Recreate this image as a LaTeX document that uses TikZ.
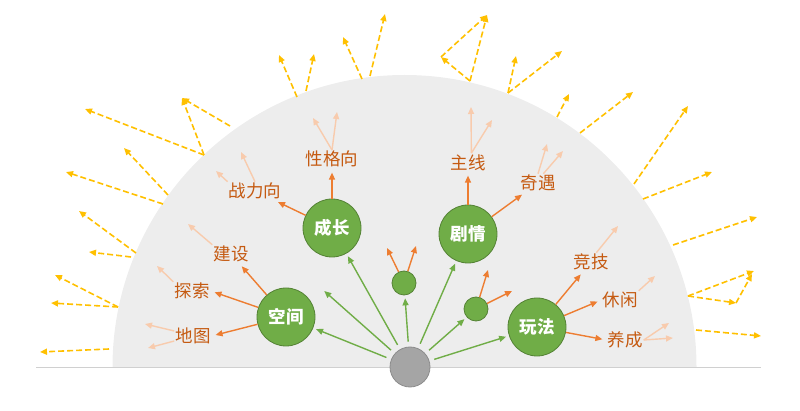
\documentclass[tikz,border=0pt]{standalone}
\usepackage{fontspec}
\setmainfont{Noto Sans CJK SC}
\usetikzlibrary{arrows.meta,positioning}
\definecolor{rayyellow}{HTML}{FFC000}
\definecolor{leafgreen}{HTML}{70AD47}
\definecolor{leafborder}{HTML}{548235}
\definecolor{twigorange}{HTML}{ED7D31}
\definecolor{labelbrown}{HTML}{C55A11}
\definecolor{faintorange}{HTML}{F8CBAD}
\definecolor{domegray}{HTML}{EDEDED}
\definecolor{hubgray}{HTML}{A5A5A5}
\definecolor{hubborder}{HTML}{8C8C8C}
\definecolor{groundgray}{HTML}{D0D0D0}
\tikzset{
  every picture/.style = {
    >={Triangle[length=7pt,width=6pt]},
  }
  ,
  leaf/.style = {
    circle,
    draw = leafborder,
    line width = 0.8pt,
    fill = leafgreen,
    minimum size = 58pt,
    inner sep = 0pt,
    text = white,
    font = \bfseries\fontsize{17.5}{17.5}\selectfont
  }
  , % small green circles
  bud/.style = {
    circle,
    draw = leafborder,
    line width = 0.8pt,
    fill = leafgreen,
    minimum size = 24pt,
    inner sep = 0pt
  }
  ,
  stem/.style = {
    circle,
    draw = hubborder,
    line width = 0.8pt,
    fill = hubgray,
    minimum size = 40pt,
    inner sep = 0pt
  }
  , % labels of branches
  twig/.style = {
    text = labelbrown,
    font = \fontsize{17.5}{17.5}\selectfont,
    inner sep = 1pt
  }
  ,
  sprout/.style = {color=leafgreen, line width=1.4pt, shorten <=5pt, shorten >=3pt},
  branch/.style = {color=twigorange, line width=1.4pt, shorten >=4pt},
  hint/.style = {color=faintorange, line width=1.4pt},
  ray/.style = {color=rayyellow, line width=1.6pt, dash pattern=on 6pt off 3pt},
  ground/.style = {draw=groundgray, line width=1pt}
}

\begin{document}
\begin{tikzpicture}[x=1pt, y=-1pt]
    \useasboundingbox (0,0) rectangle (800,411);
    \fill[domegray] (112.5,367) arc[start angle=180, end angle=0, radius=292pt] -- cycle;
    \draw[ground] (36,367) -- (761,367);

    % rays out of the dome
    \foreach \a/\b in {{370,76}/{385,14}, {362,79}/{343,37}, {306,91}/{314,54},
        {297,97}/{279,55}, {230,126}/{182,98}, {204,155}/{182,98}, {204,155}/{85,109},
        {168,195}/{124,148}, {163,204}/{66,172}, {136,253}/{79,211}, {131,257}/{89,252},
        {118,307}/{55,275}, {118,307}/{51,303}, {109,349}/{40,352},
        {470,81}/{487,15}, {470,81}/{441,57}, {441,57}/{487,15}, {508,93}/{516,56},
        {508,93}/{562,51}, {557,117}/{569,94}, {580,133}/{633,92}, {634,184}/{688,106},
        {643,199}/{712,172}, {673,245}/{757,217}, {688,296}/{754,271}, {688,296}/{736,303},
        {736,303}/{752,274}, {696,330}/{761,336}}
        \draw[ray, ->] (\a) -- (\b);

    \node [stem] (root) at (410,367) {};
    \node [leaf] (kj) at (286,317) {空间};
    \node [leaf] (cz) at (332,228) {成长};
    \node [leaf] (jq) at (468,234) {剧情};
    \node [leaf] (wf) at (537,327) {玩法};
    \node [bud] (s1) at (404,283) {};
    \node [bud] (s2) at (476,309) {};

    \node [twig] (js) at (231,254) {建设};
    \node [twig] (ts) at (192,291) {探索};
    \node [twig] (dt) at (193,336) {地图};
    \node [twig] (zl) at (255,191) {战力向};
    \node [twig, above = 30pt of cz] (xg) {性格向};
    \node [twig, above = 33pt of jq] (zx) {主线};
    \node [twig] (qy) at (538,183) {奇遇};
    \node [twig] (jj) at (591,262) {竞技};
    \node [twig] (xx) at (620,300) {休闲};
    \node [twig] (yc) at (625,340) {养成};

    % free ends
    \coordinate (gap) at (322,289);
    \coordinate (s1a) at (387,248); \coordinate (s1b) at (416,246);
    \coordinate (s2a) at (488,270); \coordinate (s2b) at (512,291);
    \coordinate (jsa) at (188,224); \coordinate (tsa) at (157,266);
    \coordinate (dta) at (145,324); \coordinate (dtb) at (148,348);
    \coordinate (zla) at (241,152); \coordinate (zlb) at (216,171);
    \coordinate (xga) at (313,118); \coordinate (xgb) at (337,112);
    \coordinate (zxa) at (471,107); \coordinate (zxb) at (492,120);
    \coordinate (qya) at (547,144); \coordinate (qyb) at (563,151);
    \coordinate (jja) at (618,226); \coordinate (xxa) at (655,276);
    \coordinate (yca) at (669,323); \coordinate (ycb) at (673,338);

    \path[->, sprout] (root) edge (kj)
        (root) edge (gap)
        (root) edge (cz)
        (root) edge (s1)
        (root) edge (jq)
        (root) edge (s2)
        (root) edge (wf);

    \path[->, branch] (kj) edge (js)
        (kj) edge (ts.east)
        (kj) edge (dt.east)
        (cz) edge (zl)
        (cz) edge (xg)
        (jq) edge (zx)
        (jq) edge (qy)
        (wf) edge (jj)
        (wf) edge (xx.west)
        (wf) edge (yc.west)
        (s1) edge[shorten >=0pt] (s1a)
        (s1) edge[shorten >=0pt] (s1b)
        (s2) edge[shorten >=0pt] (s2a)
        (s2) edge[shorten >=0pt] (s2b);

    \path[->, hint] (js.north west) edge (jsa)
        (ts.north west) edge (tsa)
        (dt.165) edge (dta)
        (dt.195) edge (dtb)
        (zl.north) edge (zla)
        (zl.north west) edge (zlb)
        (xg.north) edge (xga)
        (xg.north) edge (xgb)
        (zx.70) edge (zxa)
        (zx.70) edge (zxb)
        (qy.north) edge (qya)
        (qy.60) edge (qyb)
        (jj.60) edge (jja)
        (xx.north east) edge (xxa)
        (yc.east) edge (yca)
        (yc.east) edge (ycb);
\end{tikzpicture}
\end{document}
